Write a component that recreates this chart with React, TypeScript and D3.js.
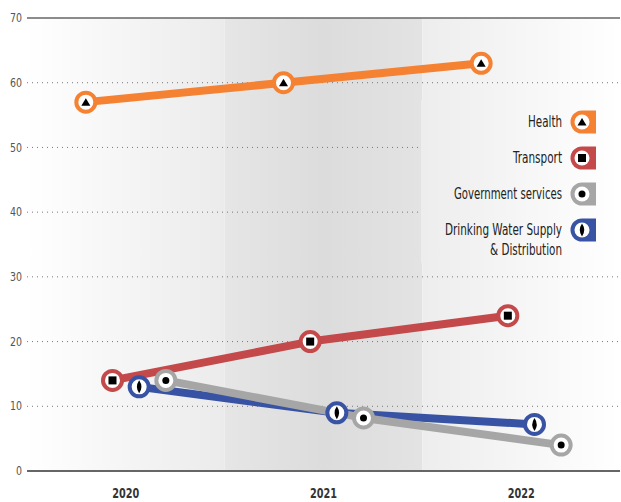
import React from "react";
import * as d3 from "d3";

const years = ["2020", "2021", "2022"];
const seriesNames = ["Health", "Transport", "Drinking Water Supply & Distribution", "Government services"];
const legendOrder = ["Health", "Transport", "Government services", "Drinking Water Supply & Distribution"];
const legendLabels: Record<string, string[]> = {
  "Health": ["Health"],
  "Transport": ["Transport"],
  "Government services": ["Government services"],
  "Drinking Water Supply & Distribution": ["Drinking Water Supply", "& Distribution"],
};
const healthValues = [57, 60, 63];
const transportValues = [14, 20, 24];
const waterValues = [13, 9, 7.2];
const govValues = [14, 8.2, 4];
const yTicks = [0, 10, 20, 30, 40, 50, 60, 70];

const colors: Record<string, string> = {
  "Health": "#f58233",
  "Transport": "#c4494a",
  "Drinking Water Supply & Distribution": "#3953a4",
  "Government services": "#a6a6a6",
};
const valuesBySeries: Record<string, number[]> = {
  "Health": healthValues,
  "Transport": transportValues,
  "Drinking Water Supply & Distribution": waterValues,
  "Government services": govValues,
};

const W = 621, H = 502;
const left = 27, right = 620, top = 18, bottom = 471;
const FONT = "'DejaVu Sans', sans-serif";

// rendered widths of the condensed legend labels in the original
const labelWidth: Record<string, number> = {
  "Health": 34,
  "Transport": 49,
  "Government services": 108,
  "Drinking Water Supply": 117,
  "& Distribution": 72,
};

function Symbol({ name }: { name: string }) {
  if (name === "Health") return <path d="M0,-4 L4.5,3.5 L-4.5,3.5 Z" fill="#000" />;
  if (name === "Transport") return <rect x={-4} y={-4} width={8} height={8} fill="#000" />;
  if (name === "Government services") return <circle r={3.5} fill="#000" />;
  return <path d="M0,-6.5 Q4.5,0 0,6.5 Q-4.5,0 0,-6.5 Z" fill="#000" />;
}

export default function App() {
  const x = d3.scaleBand<string>().domain(years).range([left, right]);
  const inner = d3.scalePoint<string>().domain(seriesNames).range([-40, 40]);
  const y = d3.scaleLinear().domain([0, 70]).range([bottom, top]);
  const bw = x.bandwidth();
  const line = d3.line<[number, number]>().x(d => d[0]).y(d => d[1]);

  const pts = (s: string) =>
    valuesBySeries[s].map((v, i) => [x(years[i])! + bw / 2 + inner(s)!, y(v)] as [number, number]);

  const legendY = [122, 158, 194, 230];

  return (
    <svg width={W} height={H} style={{ position: "absolute", left: 0, top: 0 }} fontFamily={FONT} fontStretch="condensed">
      <defs>
        <linearGradient id="g1" x1="0" x2="1" y1="0" y2="0">
          <stop offset="0" stopColor="#ffffff" />
          <stop offset="1" stopColor="#ebebeb" />
        </linearGradient>
        <linearGradient id="g2" x1="0" x2="1" y1="0" y2="0">
          <stop offset="0" stopColor="#e6e6e6" />
          <stop offset="0.5" stopColor="#dcdcdc" />
          <stop offset="1" stopColor="#e3e3e3" />
        </linearGradient>
        <linearGradient id="g3" gradientUnits="userSpaceOnUse" x1={x("2022")!} x2={right} y1="0" y2="0">
          <stop offset="0" stopColor="#ededed" />
          <stop offset="1" stopColor="#ffffff" />
        </linearGradient>
      </defs>
      <rect x={x("2020")!} y={top} width={bw} height={bottom - top} fill="url(#g1)" />
      <rect x={x("2021")!} y={top} width={bw} height={bottom - top} fill="url(#g2)" />
      <rect x={x("2022")!} y={top} width={bw} height={bottom - top} fill="url(#g3)" />

      {yTicks.map(t => (
        <g key={t}>
          {t !== 0 && t !== 70 && (
            <line x1={left} x2={right} y1={y(t)} y2={y(t)} stroke="#777" strokeWidth={1} strokeDasharray="1,4" />
          )}
          <text x={22} y={y(t)} dy="0.35em" textAnchor="end" fontSize={12} fill="#555"
            textLength={String(t).length * 6} lengthAdjust="spacingAndGlyphs">{t}</text>
        </g>
      ))}
      <line x1={left} x2={right} y1={top} y2={top} stroke="#666" strokeWidth={1.5} />
      <line x1={left} x2={right} y1={bottom} y2={bottom} stroke="#666" strokeWidth={2} />

      {years.map(yr => (
        <text key={yr} x={x(yr)! + bw / 2} y={493} dy="0.35em" textAnchor="middle" fontSize={13.5} fontWeight="bold" fill="#333"
          textLength={27} lengthAdjust="spacingAndGlyphs">{yr}</text>
      ))}

      {/* legend background */}
      <rect x={421} y={100} width={right - 421} height={163} fill="url(#g3)" />

      {seriesNames.map(s => (
        <path key={s} d={line(pts(s))!} fill="none" stroke={colors[s]} strokeWidth={8} strokeLinejoin="round" />
      ))}
      {seriesNames.map(s =>
        pts(s).map((p, i) => (
          <g key={s + i} transform={`translate(${p[0]},${p[1]})`}>
            <circle r={9.5} fill="#fff" stroke={colors[s]} strokeWidth={4} />
            <Symbol name={s} />
          </g>
        ))
      )}

      {legendOrder.map((s, i) => {
        const cy = legendY[i];
        const cx = 582;
        const labels = legendLabels[s];
        return (
          <g key={s}>
            <path d={`M${cx},${cy - 11.5} L${cx + 14},${cy - 11.5} L${cx + 14},${cy + 11.5} L${cx},${cy + 11.5} A11.5,11.5 0 0 1 ${cx},${cy - 11.5} Z`} fill={colors[s]} />
            <circle cx={cx} cy={cy} r={7.5} fill="#fff" />
            <g transform={`translate(${cx},${cy})`}><Symbol name={s} /></g>
            {labels.map((l, j) => (
              <text key={j} x={562} y={cy + j * 20} dy="0.35em" textAnchor="end" fontSize={15} fill="#222"
                textLength={labelWidth[l]} lengthAdjust="spacingAndGlyphs">{l}</text>
            ))}
          </g>
        );
      })}
    </svg>
  );
}
